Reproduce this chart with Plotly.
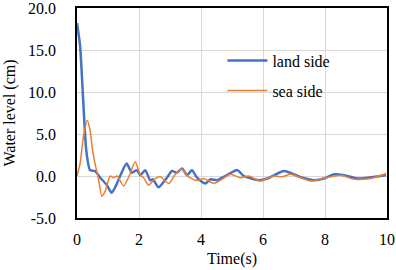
import plotly.graph_objects as go

t_land = [0.0, 0.1, 0.2, 0.3, 0.42, 0.58, 0.75, 0.96, 1.12, 1.25, 1.39, 1.6, 1.77, 1.93, 2.04, 2.2, 2.36, 2.45, 2.63, 2.9, 3.06, 3.22, 3.39, 3.55, 3.71, 3.87, 4.14, 4.3, 4.52, 4.68, 4.84, 5.17, 5.38, 5.87, 6.14, 6.68, 7.22, 7.65, 7.97, 8.3, 8.62, 9.05, 9.59, 9.97]
land = [18.2, 15.5, 9.0, 3.0, 0.7, 0.6, -0.2, -1.07, -2.0, -1.2, 0.0, 1.5, 0.4, 0.7, 0.1, 0.7, -0.5, -0.4, -1.35, -0.2, 0.6, 0.4, 0.9, 0.1, 0.7, -0.2, -0.9, -0.4, -0.5, -0.2, 0.1, 0.7, 0.0, -0.5, -0.3, 0.6, -0.15, -0.5, -0.3, 0.2, 0.1, -0.3, -0.1, 0.1]

t_sea = [0.0, 0.1, 0.2, 0.33, 0.42, 0.5, 0.58, 0.69, 0.8, 0.9, 1.07, 1.18, 1.3, 1.5, 1.66, 1.88, 2.04, 2.15, 2.31, 2.52, 2.69, 2.96, 3.17, 3.39, 3.6, 3.87, 4.09, 4.41, 4.63, 4.95, 5.27, 5.54, 5.92, 6.35, 6.62, 6.89, 7.54, 8.03, 8.51, 8.94, 9.48, 9.97]
sea = [0.0, 1.5, 4.5, 6.6, 5.5, 3.1, 1.5, -0.3, -2.4, -1.9, 0.0, -0.2, 0.0, -1.2, -0.2, 1.7, 0.1, -0.2, -1.1, -0.3, -0.1, -0.9, 0.2, 0.8, -0.1, -0.55, -0.3, -0.9, -0.5, 0.2, -0.2, 0.0, -0.6, 0.0, -0.1, 0.2, -0.6, -0.2, 0.1, -0.4, -0.3, 0.3]

x_ticks = [0, 2, 4, 6, 8, 10]
y_ticks = [-5, 0, 5, 10, 15, 20]

font = "Times New Roman, Liberation Serif, serif"
fs = 16

fig = go.Figure()
fig.add_trace(go.Scatter(x=t_land, y=land, mode="lines", name="land side",
                         line=dict(color="#4472C4", width=2.5, shape="spline", smoothing=0.6),
                         legendgroup="a"))
fig.add_trace(go.Scatter(x=t_sea, y=sea, mode="lines", name="sea side",
                         line=dict(color="#ED7D31", width=1.5, shape="spline", smoothing=0.6),
                         legendgroup="b"))

fig.update_layout(
    width=396, height=270,
    margin=dict(l=77, r=9, t=8, b=52, autoexpand=False),
    paper_bgcolor="white", plot_bgcolor="white",
    font=dict(family=font, size=fs, color="black"),
    showlegend=True,
    legend=dict(x=0.469, y=0.83, xanchor="left", yanchor="top",
                bgcolor="rgba(0,0,0,0)", font=dict(size=fs, family=font),
                tracegroupgap=6, traceorder="grouped", itemwidth=40),
    xaxis=dict(range=[0, 10], tickvals=x_ticks, ticktext=[str(v) for v in x_ticks],
               tickfont=dict(family=font, size=fs), ticklabeloverflow="allow",
               showgrid=True, gridcolor="#D9D9D9", gridwidth=1, automargin=False,
               showline=True, linecolor="black", linewidth=1.5, mirror=True,
               zeroline=False, ticks="", ticklabelstandoff=6,
               title=dict(text="Time(s)", standoff=6, font=dict(size=fs, family=font))),
    yaxis=dict(range=[-5, 20], tickvals=y_ticks, ticktext=[f"{v:.1f}" for v in y_ticks],
               tickfont=dict(family=font, size=fs), ticklabeloverflow="allow",
               showgrid=True, gridcolor="#D9D9D9", gridwidth=1, automargin=False,
               showline=True, linecolor="black", linewidth=1.5, mirror=True,
               zeroline=False, ticks="", ticklabelstandoff=16,
               title=dict(text="Water level (cm)", standoff=8, font=dict(size=fs, family=font))),
)

fig.write_html("out.html", config={"displayModeBar": False},
               post_script="document.body.style.margin='0';document.body.style.overflow='hidden';")
